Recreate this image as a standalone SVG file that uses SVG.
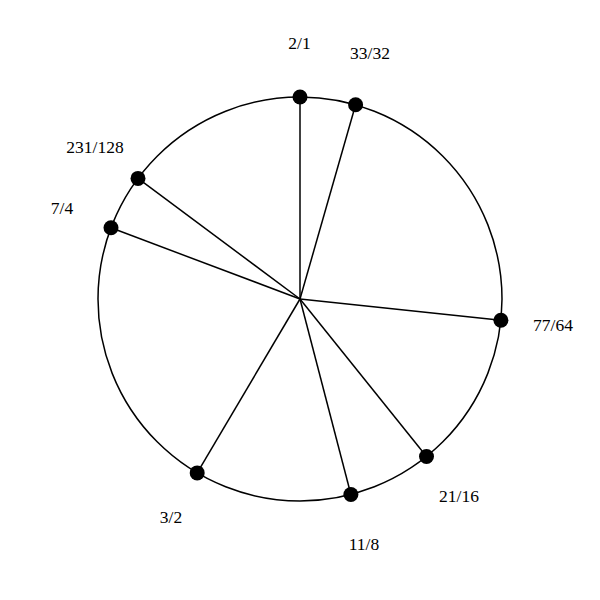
<svg xmlns="http://www.w3.org/2000/svg" width="600" height="600" viewBox="0 0 600 600">
<style>
.ring{fill:none;stroke:#000;stroke-width:1.5}
.spoke{stroke:#000;stroke-width:1.5}
.dot{fill:#000}
.lbl{font-family:"Liberation Serif","Times New Roman",serif;font-size:17.5px;fill:#000;text-anchor:middle}
</style>
<rect width="600" height="600" fill="#fff"/>
<circle class="ring" cx="300" cy="299" r="202"/>
<g id="connectors">
<line class="spoke" x1="300" y1="299" x2="300" y2="97"/>
<line class="spoke" x1="300" y1="299" x2="355.6" y2="104.8"/>
<line class="spoke" x1="300" y1="299" x2="500.9" y2="320.2"/>
<line class="spoke" x1="300" y1="299" x2="426.5" y2="456.5"/>
<line class="spoke" x1="300" y1="299" x2="350.9" y2="494.5"/>
<line class="spoke" x1="300" y1="299" x2="197.2" y2="472.9"/>
<line class="spoke" x1="300" y1="299" x2="111" y2="227.8"/>
<line class="spoke" x1="300" y1="299" x2="138" y2="178.4"/>
</g>
<g id="n-2-1"><circle class="dot" cx="300" cy="97" r="7.5"/><text class="lbl" x="299.5" y="49">2/1</text></g>
<g id="n-33-32"><circle class="dot" cx="355.6" cy="104.8" r="7.5"/><text class="lbl" x="370" y="59">33/32</text></g>
<g id="n-77-64"><circle class="dot" cx="500.9" cy="320.2" r="7.5"/><text class="lbl" x="553" y="331">77/64</text></g>
<g id="n-21-16"><circle class="dot" cx="426.5" cy="456.5" r="7.5"/><text class="lbl" x="459" y="502">21/16</text></g>
<g id="n-11-8"><circle class="dot" cx="350.9" cy="494.5" r="7.5"/><text class="lbl" x="364" y="550">11/8</text></g>
<g id="n-3-2"><circle class="dot" cx="197.2" cy="472.9" r="7.5"/><text class="lbl" x="171" y="523">3/2</text></g>
<g id="n-7-4"><circle class="dot" cx="111" cy="227.8" r="7.5"/><text class="lbl" x="62" y="214">7/4</text></g>
<g id="n-231-128"><circle class="dot" cx="138" cy="178.4" r="7.5"/><text class="lbl" x="95" y="153">231/128</text></g>
</svg>
